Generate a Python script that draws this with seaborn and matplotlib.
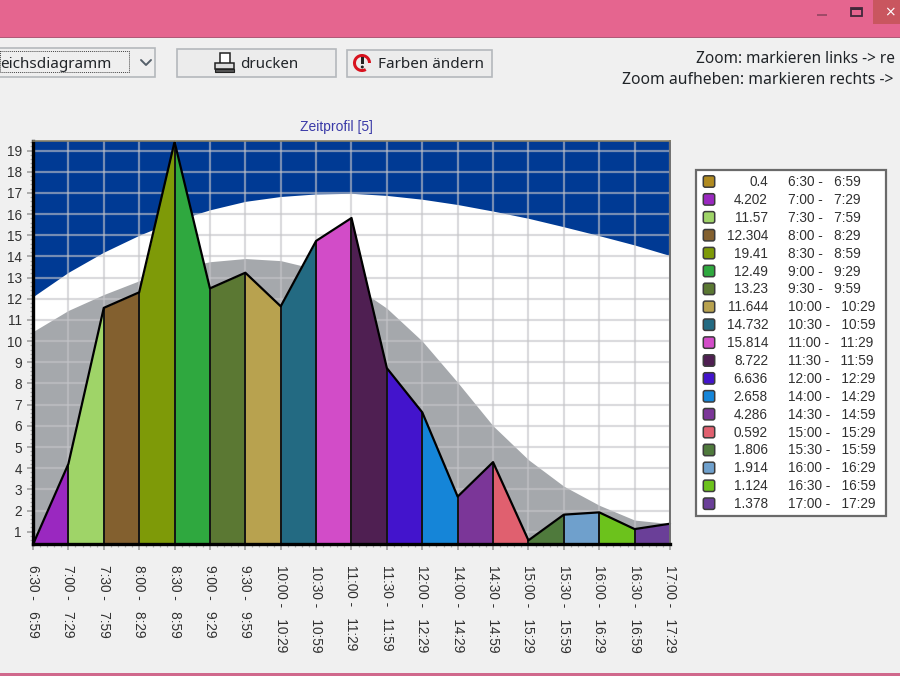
import numpy as np
import pandas as pd
import matplotlib
matplotlib.use("Agg")
import matplotlib.pyplot as plt
from matplotlib.patches import Rectangle, FancyBboxPatch, Circle, Wedge
from matplotlib.ticker import MultipleLocator
import seaborn as sns

time_labels = ["6:30 -   6:59", "7:00 -   7:29", "7:30 -   7:59", "8:00 -   8:29", "8:30 -   8:59",
               "9:00 -   9:29", "9:30 -   9:59", "10:00 -   10:29", "10:30 -   10:59", "11:00 -   11:29",
               "11:30 -   11:59", "12:00 -   12:29", "14:00 -   14:29", "14:30 -   14:59", "15:00 -   15:29",
               "15:30 -   15:59", "16:00 -   16:29", "16:30 -   16:59", "17:00 -   17:29"]
values = [0.4, 4.202, 11.57, 12.304, 19.41, 12.49, 13.23, 11.644, 14.732, 15.814,
          8.722, 6.636, 2.658, 4.286, 0.592, 1.806, 1.914, 1.124, 1.378]
value_labels = ["0.4", "4.202", "11.57", "12.304", "19.41", "12.49", "13.23", "11.644", "14.732", "15.814",
                "8.722", "6.636", "2.658", "4.286", "0.592", "1.806", "1.914", "1.124", "1.378"]
colors = ["#b08a20", "#9a28c0", "#9fd468", "#83602f", "#7e9a08", "#2fa83f", "#5b7833", "#b8a24f",
          "#236a82", "#d24cc8", "#4f1f52", "#4314cc", "#1585d8", "#7b3698", "#e0606f", "#4f7a3c",
          "#6fa0cc", "#6cc21c", "#6a3f98"]
upper_band = [12.1, 13.25, 14.2, 15.0, 15.68, 16.2, 16.6, 16.83, 16.95, 16.98,
              16.88, 16.7, 16.45, 16.14, 15.8, 15.4, 14.98, 14.54, 14.04]
lower_band = [10.45, 11.45, 12.2, 12.85, 13.4, 13.75, 13.9, 13.8, 13.4, 12.7,
              11.55, 10.0, 8.05, 6.0, 4.4, 3.15, 2.25, 1.55, 1.38]

W, H = 900, 676
BG = "#f0f0f0"
PINK = "#e5658f"
BLUE = "#003a94"
GREY = "#a5a8ac"

sns.set_theme(style="white")
plt.rcParams["font.family"] = ["Liberation Sans", "DejaVu Sans"]

df = pd.DataFrame({"slot": np.arange(len(values)), "value": values,
                   "upper": upper_band, "lower": lower_band})

fig = plt.figure(figsize=(W / 100, H / 100), dpi=100, facecolor=BG)

# window chrome in pixel coordinates
ui = fig.add_axes([0, 0, 1, 1], zorder=0)
ui.set_xlim(0, W)
ui.set_ylim(H, 0)
ui.axis("off")
ui.add_patch(Rectangle((0, 0), W, 37, fc=PINK, ec="none"))
ui.add_patch(Rectangle((0, 36.5), W, 1, fc="#b05a78", ec="none"))
ui.add_patch(Rectangle((0, 673), W, 3, fc="#d0688c", ec="none"))
ui.add_patch(Rectangle((873, 0), 27, 24, fc="#c9565f", ec="none"))
ui.add_patch(Rectangle((817, 14), 10, 1.6, fc="#a04a68", ec="none"))
ui.add_patch(Rectangle((851, 8), 11, 8, fc="none", ec="#40283a", lw=1.3))
ui.add_patch(Rectangle((851, 8), 11, 2, fc="#40283a", ec="none"))
ui.text(890, 12, "×", color="white", fontsize=10, ha="center", va="center", family="DejaVu Sans")


def box(x0, y0, x1, y1, fc="#efefef", ec="#b4b8bc"):
    ui.add_patch(Rectangle((x0, y0), x1 - x0, y1 - y0, fc=fc, ec=ec, lw=1.2))


box(-3, 47.5, 155, 77)
box(177, 49, 336, 76.5, fc="#ececec")
box(347, 49.5, 492, 76.5, fc="#ececec")
ui.add_patch(Rectangle((0, 51), 129, 21, fc="none", ec="#444444", lw=0.7, ls=(0, (1, 1))))
ui.plot([141, 146, 151], [60, 65, 60], color="#55606a", lw=1.4)

ui_font = dict(family="Noto Sans", color="#202428", va="center")
ui.text(0, 64, "eichsdiagramm", fontsize=11, **ui_font)
ui.text(240, 64, "drucken", fontsize=10.9, **ui_font)
ui.text(378, 64, "Farben ändern", fontsize=11, **ui_font)
ui.text(696, 59, "Zoom: markieren links -> re", fontsize=11.1, **ui_font)
ui.text(622, 80, "Zoom aufheben: markieren rechts ->", fontsize=11.3, **ui_font)

# printer icon
ui.add_patch(Rectangle((220, 53), 10, 11, fc="white", ec="#222222", lw=1.1))
ui.add_patch(Rectangle((215, 63), 19, 6, fc="#dddddd", ec="#222222", lw=1.1))
ui.add_patch(Rectangle((215, 69), 19, 3, fc="#555555", ec="#222222", lw=0.8))
# colour change icon
ui.add_patch(Wedge((362, 63), 9, 60, 360, width=3, fc="#d8121e", ec="none"))
ui.add_patch(Rectangle((361, 57), 2.6, 7, fc="#222222", ec="none"))
ui.add_patch(Circle((362.3, 67), 1.5, fc="#222222", ec="none"))

# legend panel
ui.add_patch(Rectangle((696, 170), 190, 346, fc="white", ec="#6a6a6a", lw=1.6))
for i, (val, lab, col) in enumerate(zip(value_labels, time_labels, colors)):
    ypos = 182 + i * 17.9
    ui.add_patch(FancyBboxPatch((704.5, ypos - 5), 9, 9, boxstyle="round,pad=1.2,rounding_size=2",
                                fc=col, ec="#3c3c3c", lw=1.1))
    ui.text(768, ypos, val, ha="right", va="center", fontsize=9.8, color="#303030")
    ui.text(788, ypos, lab, ha="left", va="center", fontsize=9.8, color="#303030")

# chart
left, right, top, bottom = 33, 670, 141, 544
ax = fig.add_axes([left / W, 1 - bottom / H, (right - left) / W, (bottom - top) / H], zorder=2)
ax.set_xlim(0, len(values) - 1)
ax.set_ylim(0.42, 19.45)
ax.set_facecolor(BLUE)

ax.fill_between(df["slot"], df["upper"], 0, color="white", lw=0, zorder=1)
ax.fill_between(df["slot"], df["lower"], 0, color=GREY, lw=0, zorder=1.1)

ax.set_xticks(df["slot"], time_labels, rotation=270, ha="center", va="top", fontsize=9.8, color="#303030")
ax.set_yticks(np.arange(1, 20))
ax.set_yticklabels([str(v) for v in range(1, 20)], fontsize=9.8, color="#303030")
ax.xaxis.set_minor_locator(MultipleLocator(0.2))
ax.yaxis.set_minor_locator(MultipleLocator(0.2))
ax.tick_params(axis="x", which="major", length=4, width=1.2, color="#a0a0a0", pad=11, bottom=True)
ax.tick_params(axis="y", which="major", length=4, width=1.2, color="#a0a0a0", pad=4, left=True)
ax.tick_params(which="minor", length=2.5, width=0.9, color="#b0b0b0", bottom=True, left=True)
ax.set_axisbelow(False)
ax.grid(True, which="major", color="#c4c4c8", alpha=0.6, lw=1.6, zorder=2)
for line in ax.get_xgridlines() + ax.get_ygridlines():
    line.set_zorder(2)

for i in range(1, len(values)):
    ax.fill_between(df["slot"].iloc[i - 1:i + 1], df["value"].iloc[i - 1:i + 1], 0,
                    color=colors[i], lw=0, zorder=3)
ax.vlines(df["slot"], 0, df["value"], color="#141414", lw=1.4, zorder=4)
sns.lineplot(data=df, x="slot", y="value", color="black", lw=1.6, ax=ax, zorder=5,
             legend=False, clip_on=False)
ax.set_xlabel("")
ax.set_ylabel("")
ax.set_title("Zeitprofil [5]", fontsize=10, color="#3a3aa8", pad=7, x=(336 - left) / (right - left))

for side, col, lw in [("left", "black", 2.4), ("bottom", "black", 2.4), ("top", "#857f68", 1.2), ("right", "#707070", 1.4)]:
    ax.spines[side].set_visible(True)
    ax.spines[side].set_color(col)
    ax.spines[side].set_linewidth(lw)
    ax.spines[side].set_zorder(6)

fig.savefig("out.png", dpi=100, facecolor=BG)
